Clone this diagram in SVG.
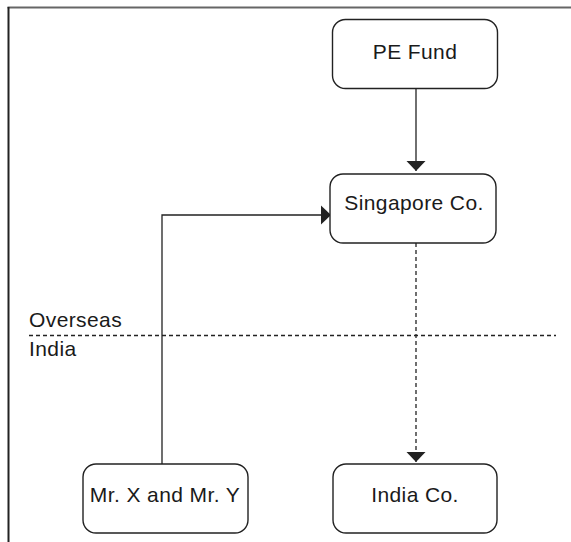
<svg xmlns="http://www.w3.org/2000/svg" width="571" height="542" viewBox="0 0 571 542">
  <style>
    .box { fill: #ffffff; stroke: #222222; stroke-width: 1.4; }
    .label { font-family: "Liberation Sans", Arial, sans-serif; font-size: 21px; fill: #1a1a1a; letter-spacing: 0.4px; }
    .edge { fill: none; stroke: #222222; stroke-width: 1.3; }
    .dash { stroke-dasharray: 4 3; }
  </style>
  <defs>
    <marker id="arrow" markerUnits="userSpaceOnUse" markerWidth="20" markerHeight="20" viewBox="0 0 10 20" refX="10" refY="10" orient="auto">
      <polygon points="0,0.5 10,10 0,19.5" fill="#222222"/>
    </marker>
  </defs>

  <!-- frame -->
  <line x1="7.5" y1="7.5" x2="571" y2="7.5" stroke="#666666" stroke-width="2"/>
  <line x1="8.5" y1="7" x2="8.5" y2="542" stroke="#222222" stroke-width="2"/>

  <!-- jurisdiction divider -->
  <g id="divider">
    <line class="edge dash" x1="29" y1="335.5" x2="556" y2="335.5"/>
    <text class="label" x="29" y="327">Overseas</text>
    <text class="label" x="29" y="356">India</text>
  </g>

  <g id="connectors">
    <line class="edge" x1="416" y1="89" x2="416" y2="171" marker-end="url(#arrow)"/>
    <polyline class="edge" points="162,464 162,215 331,215" marker-end="url(#arrow)"/>
    <line class="edge dash" x1="416" y1="243" x2="416" y2="462" marker-end="url(#arrow)"/>
  </g>

  <g id="pe-fund">
    <rect class="box" x="332.5" y="19.5" width="165" height="69" rx="13"/>
    <text class="label" x="415" y="59" text-anchor="middle">PE Fund</text>
  </g>

  <g id="singapore-co">
    <rect class="box" x="330" y="174" width="166" height="69" rx="13"/>
    <text class="label" x="414" y="210" text-anchor="middle">Singapore Co.</text>
  </g>

  <g id="mr-x-and-mr-y">
    <rect class="box" x="83" y="464" width="165" height="69" rx="13"/>
    <text class="label" x="165" y="502" text-anchor="middle">Mr. X and Mr. Y</text>
  </g>

  <g id="india-co">
    <rect class="box" x="333" y="464" width="164" height="69" rx="13"/>
    <text class="label" x="415" y="502" text-anchor="middle">India Co.</text>
  </g>
</svg>
